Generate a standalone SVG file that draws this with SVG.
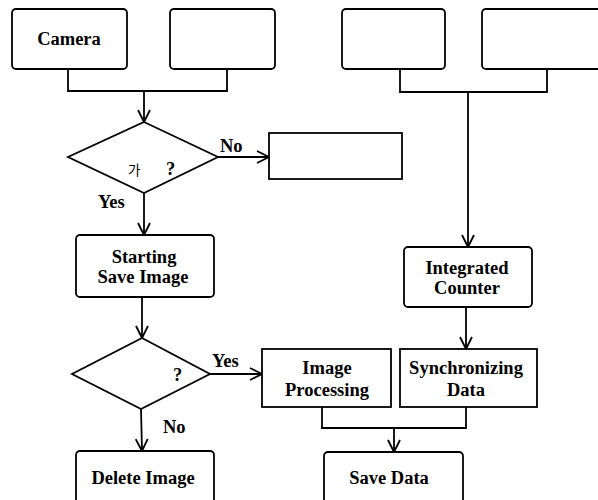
<svg xmlns="http://www.w3.org/2000/svg" width="598" height="500" viewBox="0 0 598 500">
<defs>
<marker id="arr" viewBox="-13 -7 14 14" markerWidth="14" markerHeight="14" refX="0" refY="0" orient="auto" markerUnits="userSpaceOnUse">
<path d="M-12,-6 L0,0 L-12,6" fill="none" stroke="#000" stroke-width="1.8"/>
</marker>
<style>
.b{fill:#fff;stroke:#000;stroke-width:1.8}
.c{fill:none;stroke:#000;stroke-width:1.8}
.t{font-family:"Liberation Serif","Times New Roman",serif;font-weight:bold;font-size:18.5px;text-anchor:middle;fill:#000}
.l{font-family:"Liberation Serif","Times New Roman",serif;font-weight:bold;font-size:18.5px;fill:#000}
.k{font-family:"Noto Sans CJK KR",sans-serif;font-size:13.5px;fill:#000}
</style>
</defs>
<rect width="598" height="500" fill="#fff"/>
<g id="connectors">
<polyline class="c" points="68,69 68,91 227,91 227,69"/>
<line class="c" x1="144" y1="91" x2="144" y2="122" marker-end="url(#arr)"/>
<line class="c" x1="218" y1="157" x2="269" y2="157" marker-end="url(#arr)"/>
<line class="c" x1="144" y1="193" x2="144" y2="235" marker-end="url(#arr)"/>
<line class="c" x1="142" y1="297" x2="142" y2="338" marker-end="url(#arr)"/>
<line class="c" x1="210" y1="374" x2="262" y2="374" marker-end="url(#arr)"/>
<line class="c" x1="141" y1="409" x2="142" y2="451" marker-end="url(#arr)"/>
<polyline class="c" points="400,69 400,92 547,92 547,69"/>
<line class="c" x1="468" y1="92" x2="468" y2="247" marker-end="url(#arr)"/>
<line class="c" x1="466" y1="307" x2="466" y2="349" marker-end="url(#arr)"/>
<polyline class="c" points="322,407 322,428 466,428 466,407"/>
<line class="c" x1="394" y1="428" x2="394" y2="452" marker-end="url(#arr)"/>
<text class="l" x="220" y="152">No</text>
<text class="l" x="98" y="208">Yes</text>
<text class="l" x="212" y="367">Yes</text>
<text class="l" x="163" y="433">No</text>
</g>
<g id="camera"><rect class="b" x="12" y="9" width="115" height="60" rx="4"/><text class="t" x="69" y="45">Camera</text></g>
<g id="box2"><rect class="b" x="170" y="9" width="105" height="60" rx="4"/></g>
<g id="box3"><rect class="b" x="342" y="9" width="103" height="60" rx="4"/></g>
<g id="box4"><rect class="b" x="482" y="9" width="130" height="60" rx="4"/></g>
<g id="decision1"><polygon class="b" points="144,122 218,157 144,193 68,157"/><text class="k" x="128" y="175">가</text><text class="l" x="166" y="175">?</text></g>
<g id="nobox"><rect class="b" x="269" y="133" width="133" height="46"/></g>
<g id="starting"><rect class="b" x="76" y="235" width="138" height="62" rx="4"/><text class="t" x="144" y="263">Starting</text><text class="t" x="143" y="283">Save Image</text></g>
<g id="decision2"><polygon class="b" points="142,338 210,374 141,409 72,374"/><text class="l" x="173" y="381">?</text></g>
<g id="delete"><rect class="b" x="76" y="451" width="138" height="60" rx="4"/><text class="t" x="143" y="484">Delete Image</text></g>
<g id="imageproc"><rect class="b" x="262" y="349" width="129" height="58"/><text class="t" x="327" y="374">Image</text><text class="t" x="327" y="396">Processing</text></g>
<g id="counter"><rect class="b" x="404" y="247" width="128" height="60" rx="4"/><text class="t" x="467" y="274">Integrated</text><text class="t" x="467" y="294">Counter</text></g>
<g id="sync"><rect class="b" x="400" y="349" width="137" height="58"/><text class="t" x="466" y="374">Synchronizing</text><text class="t" x="466" y="396">Data</text></g>
<g id="savedata"><rect class="b" x="324" y="452" width="139" height="60" rx="4"/><text class="t" x="389" y="484">Save Data</text></g>
</svg>
